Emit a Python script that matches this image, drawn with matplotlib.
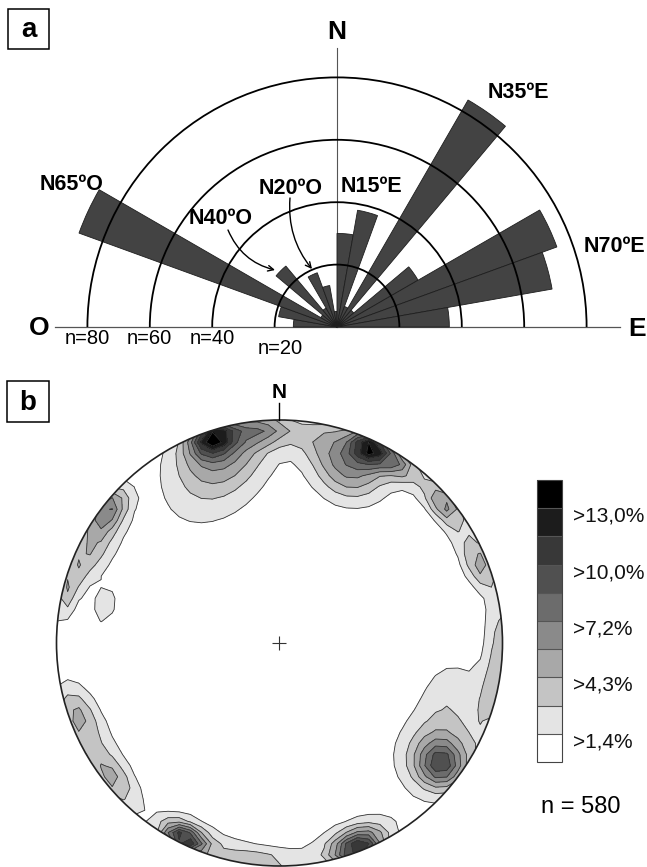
import numpy as np
import matplotlib
matplotlib.use("Agg")
import matplotlib.pyplot as plt
from matplotlib.patches import Wedge, Arc, Circle, Rectangle

plt.rcParams['font.family'] = ['Liberation Sans', 'DejaVu Sans']

# ---------------- data: rose diagram (panel a) ----------------
bin_start = list(range(-90, 90, 10))           # azimuth, degrees from N (negative = west)
bin_width = 10
counts = [14, 19, 88, 6, 25.5, 7, 18.5, 13.5, 5,
          30, 38, 7, 84, 7, 30, 75, 70, 36]
ring_values = [20, 40, 60, 80]
ring_labels = ["n=20", "n=40", "n=60", "n=80"]
peak_labels = ["N65ºO", "N40ºO", "N20ºO", "N15ºE", "N35ºE", "N70ºE"]

# ---------------- data: pole density (panel b) ----------------
# concentrations read from the stereonet: azimuth, radial position, peak %, tangential and radial spread
spot_az   = [342, 343, 336, 25, 22, 22, 3, 45, 50, 69, 60, 100, 106, 127, 125, 159, 160,
             186, 206, 204, 250, 231, 240, 283, 282, 308, 295, 300, 355, 12, 85, 33]
spot_r    = [0.97, 0.90, 0.74, 0.97, 0.88, 0.80, 0.96, 0.96, 0.97, 0.97, 0.95, 0.98, 0.80,
             0.91, 0.86, 0.99, 0.93, 0.98, 0.98, 0.94, 0.97, 0.97, 0.93, 0.98, 0.80, 0.98,
             0.96, 0.91, 0.96, 0.90, 0.98, 0.96]
spot_peak = [10.0, 5.5, 2.3, 10.0, 5.0, 2.0, 2.2, 2.2, 3.3, 3.6, 2.0, 3.4, 2.1,
             6.2, 4.4, 10.5, 2.6, 3.6, 10.5, 2.2, 3.6, 3.6, 1.9, 3.4, 2.4, 6.4,
             3.0, 1.7, 3.4, 1.6, 2.0, 5.0]
spot_st   = [0.07, 0.15, 0.18, 0.06, 0.12, 0.12, 0.20, 0.15, 0.06, 0.08, 0.20, 0.20, 0.12,
             0.07, 0.13, 0.08, 0.16, 0.15, 0.07, 0.14, 0.10, 0.10, 0.22, 0.10, 0.07, 0.08,
             0.12, 0.14, 0.08, 0.10, 0.10, 0.06]
spot_sr   = [0.05, 0.10, 0.12, 0.05, 0.10, 0.10, 0.05, 0.05, 0.04, 0.05, 0.05, 0.05, 0.10,
             0.07, 0.12, 0.05, 0.06, 0.05, 0.04, 0.06, 0.06, 0.05, 0.07, 0.035, 0.04, 0.05,
             0.06, 0.07, 0.05, 0.06, 0.04, 0.04]
levels = [1.4, 2.9, 4.3, 5.8, 7.2, 8.6, 10.0, 11.5, 13.0]
level_colors = ['#ffffff', '#e4e4e4', '#c4c4c4', '#a8a8a8', '#8a8a8a',
                '#6c6c6c', '#505050', '#383838', '#1c1c1c', '#000000']
cbar_labels = [">1,4%", ">4,3%", ">7,2%", ">10,0%", ">13,0%"]
n_total = 580

# ---------------- figure ----------------
W, H = 647, 867
fig = plt.figure(figsize=(W / 100, H / 100), dpi=100)

# panel a axes, scale: px per count
S = 3.12
cxa, cya = 337, 327
top_a = 370
ax_a = fig.add_axes([0, 1 - top_a / H, 1, top_a / H])
ax_a.set_xlim(-cxa / S, (W - cxa) / S)
ax_a.set_ylim((cya - top_a) / S, cya / S)
ax_a.axis('off')

for b0, c in zip(bin_start, counts):
    ax_a.add_patch(Wedge((0, 0), c, 90 - (b0 + bin_width), 90 - b0,
                         facecolor='#434343', edgecolor='#1e1e1e', lw=0.6, zorder=2))
for r in ring_values:
    ax_a.add_patch(Arc((0, 0), 2 * r, 2 * r, theta1=0, theta2=180,
                       color='black', lw=1.3, zorder=3))
ax_a.plot([(55 - cxa) / S, (620 - cxa) / S], [0, 0], color='#555555', lw=0.9, zorder=1)
ax_a.plot([0, 0], [0, (cya - 48) / S], color='#555555', lw=0.8, zorder=1)

# panel b axes, normalized units (radius 1)
R = 223.0
cxb, cyb = 279.5, 643
ax_b = fig.add_axes([0, 0, 1, (H - top_a) / H])
ax_b.set_xlim(-cxb / R, (W - cxb) / R)
ax_b.set_ylim((cyb - H) / R, (cyb - top_a) / R)
ax_b.axis('off')

g = np.linspace(-1.05, 1.05, 43)
X, Y = np.meshgrid(g, g)
Z = np.zeros_like(X)
for az, r0, pk, st, sr in zip(spot_az, spot_r, spot_peak, spot_st, spot_sr):
    a = np.radians(az)
    ux, uy = np.sin(a), np.cos(a)
    tx, ty = np.cos(a), -np.sin(a)
    dx, dy = X - r0 * ux, Y - r0 * uy
    dt = dx * tx + dy * ty
    dr = dx * ux + dy * uy
    Z += pk * np.exp(-0.5 * (dt ** 2 / st ** 2 + dr ** 2 / sr ** 2))

bounds = [-1] + levels + [100]
cs = ax_b.contourf(X, Y, Z, levels=bounds, colors=level_colors, zorder=1)
cl = ax_b.contour(X, Y, Z, levels=levels, colors='#333333', linewidths=0.6, zorder=2)
clip = Circle((0, 0), 1, transform=ax_b.transData)
cs.set_clip_path(clip)
cl.set_clip_path(clip)
ax_b.add_patch(Circle((0, 0), 1, fill=False, color='#222222', lw=1.2, zorder=3))
ax_b.plot([0], [0], marker='+', ms=9.5, mew=0.8, color='#333333', zorder=4)
ax_b.plot([0, 0], [1, (cyb - 403) / R], color='black', lw=1.0, zorder=4)

# colorbar
cax = fig.add_axes([537 / W, 1 - 762 / H, 25 / W, 282 / H])
cb = fig.colorbar(cs, cax=cax, spacing='uniform', drawedges=True)
cb.set_ticks([])
cb.outline.set_edgecolor('#444444')
cb.outline.set_linewidth(0.8)
cb.dividers.set_color('#555555')
cb.dividers.set_linewidth(0.8)
for i, lab in zip([1, 3, 5, 7, 9], cbar_labels):
    cax.text(1.44, i / 10 - 8 / 282, lab, transform=cax.transAxes,
             ha='left', va='center', fontsize=15, color='#111111')

# ---------------- overlay for annotations (pixel coordinates) ----------------
ov = fig.add_axes([0, 0, 1, 1], facecolor='none')
ov.set_xlim(0, W)
ov.set_ylim(H, 0)
ov.axis('off')

def box_label(x0, y0, x1, y1, s):
    ov.add_patch(Rectangle((x0, y0), x1 - x0, y1 - y0, fill=False, lw=1.1, color='black'))
    ov.text((x0 + x1) / 2, (y0 + y1) / 2 + 1, s, ha='center', va='center',
            fontsize=20, fontweight='bold')

box_label(8, 9, 49, 49, "a")
box_label(7, 381, 49, 422, "b")

ov.text(337, 32, "N", ha='center', va='center', fontsize=19, fontweight='bold')
ov.text(39, 328, "O", ha='center', va='center', fontsize=19, fontweight='bold')
ov.text(637, 329, "E", ha='center', va='center', fontsize=19, fontweight='bold')

for (x, y), s in zip([(280, 349), (212, 339), (149, 339), (87, 339)], ring_labels):
    ov.text(x, y, s, ha='center', va='center', fontsize=14.5)

label_pos = [(72, 185), (221, 218), (291, 188), (371, 187), (518, 92), (614, 247)]
for (x, y), s in zip(label_pos, peak_labels):
    ov.text(x, y, s, ha='center', va='center', fontsize=15.5, fontweight='bold')

ov.annotate("", xy=(275, 270), xytext=(228, 230),
            arrowprops=dict(arrowstyle='->', lw=1.0, color='black',
                            connectionstyle='arc3,rad=0.25', shrinkA=0, shrinkB=0))
ov.annotate("", xy=(312, 269), xytext=(290, 198),
            arrowprops=dict(arrowstyle='->', lw=1.0, color='black',
                            connectionstyle='arc3,rad=0.2', shrinkA=0, shrinkB=0))

ov.text(279.5, 393, "N", ha='center', va='center', fontsize=15, fontweight='bold')
ov.text(581, 807, f"n = {n_total}", ha='center', va='center', fontsize=17)

fig.savefig("out.png", dpi=100)
